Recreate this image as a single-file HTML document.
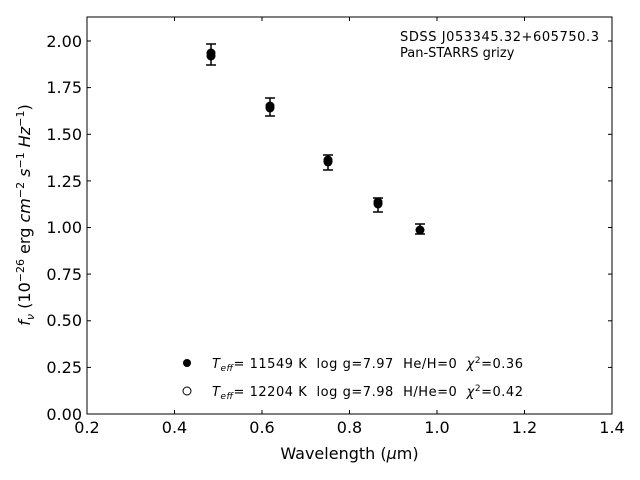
<!DOCTYPE html>
<html><head><style>body{margin:0;background:#fff}svg{display:block}text{font-family:"DejaVu Sans","Liberation Sans",sans-serif;white-space:pre}</style></head><body>
<svg width="640" height="480" xmlns="http://www.w3.org/2000/svg">
<rect x="87" y="17" width="525" height="397" fill="none" stroke="#000" stroke-width="1"/>
<g stroke="#000" stroke-width="1">
<line x1="87" y1="414" x2="87" y2="410"/><line x1="174.5" y1="414" x2="174.5" y2="410"/><line x1="262" y1="414" x2="262" y2="410"/><line x1="349.5" y1="414" x2="349.5" y2="410"/><line x1="437" y1="414" x2="437" y2="410"/><line x1="524.5" y1="414" x2="524.5" y2="410"/><line x1="612" y1="414" x2="612" y2="410"/>
<line x1="87" y1="17" x2="87" y2="21"/><line x1="174.5" y1="17" x2="174.5" y2="21"/><line x1="262" y1="17" x2="262" y2="21"/><line x1="349.5" y1="17" x2="349.5" y2="21"/><line x1="437" y1="17" x2="437" y2="21"/><line x1="524.5" y1="17" x2="524.5" y2="21"/><line x1="612" y1="17" x2="612" y2="21"/>
<line x1="87" y1="414" x2="91" y2="414"/><line x1="87" y1="367.4" x2="91" y2="367.4"/><line x1="87" y1="320.8" x2="91" y2="320.8"/><line x1="87" y1="274.1" x2="91" y2="274.1"/><line x1="87" y1="227.5" x2="91" y2="227.5"/><line x1="87" y1="180.9" x2="91" y2="180.9"/><line x1="87" y1="134.3" x2="91" y2="134.3"/><line x1="87" y1="87.6" x2="91" y2="87.6"/><line x1="87" y1="41" x2="91" y2="41"/>
<line x1="612" y1="414" x2="608" y2="414"/><line x1="612" y1="367.4" x2="608" y2="367.4"/><line x1="612" y1="320.8" x2="608" y2="320.8"/><line x1="612" y1="274.1" x2="608" y2="274.1"/><line x1="612" y1="227.5" x2="608" y2="227.5"/><line x1="612" y1="180.9" x2="608" y2="180.9"/><line x1="612" y1="134.3" x2="608" y2="134.3"/><line x1="612" y1="87.6" x2="608" y2="87.6"/><line x1="612" y1="41" x2="608" y2="41"/>
</g>
<g font-size="16" text-anchor="middle">
<text x="87" y="433">0.2</text><text x="174.5" y="433">0.4</text><text x="262" y="433">0.6</text><text x="349.5" y="433">0.8</text><text x="437" y="433">1.0</text><text x="524.5" y="433">1.2</text><text x="612" y="433">1.4</text>
</g>
<g font-size="16" text-anchor="end">
<text x="82" y="420">0.00</text><text x="82" y="373">0.25</text><text x="82" y="326">0.50</text><text x="82" y="280">0.75</text><text x="82" y="233">1.00</text><text x="82" y="187">1.25</text><text x="82" y="140">1.50</text><text x="82" y="93">1.75</text><text x="82" y="47">2.00</text>
</g>
<text x="349.5" y="459" font-size="16" text-anchor="middle">Wavelength (<tspan font-style="italic">μ</tspan>m)</text>
<text transform="translate(30,215) rotate(-90)" font-size="16" text-anchor="middle"><tspan font-style="italic">f<tspan font-size="11" dy="4">ν</tspan></tspan><tspan dy="-4"> (10</tspan><tspan font-size="11" dy="-6">−26</tspan><tspan dy="6"> erg </tspan><tspan font-style="italic">cm</tspan><tspan font-size="11" dy="-6">−2</tspan><tspan dy="6" font-style="italic"> s</tspan><tspan font-size="11" dy="-6">−1</tspan><tspan dy="6" font-style="italic"> Hz</tspan><tspan font-size="11" dy="-6">−1</tspan><tspan dy="6">)</tspan></text>
<text x="400" y="41" font-size="13" textLength="199">SDSS J053345.32+605750.3</text>
<text x="400" y="57" font-size="13">Pan-STARRS grizy</text>
<g stroke="#000" stroke-width="1.5" fill="none">
<path d="M211 44V65M206 44H216M206 65H216"/>
<path d="M270 98V116M265 98H275M265 116H275"/>
<path d="M328 155V170M323 155H333M323 170H333"/>
<path d="M378 198V212M373 198H383M373 212H383"/>
<path d="M420 224V234M415 224H425M415 234H425"/>
</g>
<g fill="#000">
<circle cx="211" cy="53" r="4.5"/><circle cx="211" cy="56" r="4.5"/>
<circle cx="270" cy="106" r="4.5"/><circle cx="270" cy="108" r="4.5"/>
<circle cx="328" cy="160" r="4.5"/><circle cx="328" cy="162" r="4.5"/>
<circle cx="378" cy="202" r="4.5"/><circle cx="378" cy="204" r="4.5"/>
<circle cx="420" cy="230" r="4.5"/>
</g>
<circle cx="187" cy="363" r="4" fill="#000"/>
<circle cx="187" cy="391" r="4" fill="#fff" stroke="#000" stroke-width="1"/>
<text x="212" y="368" font-size="13" textLength="311" lengthAdjust="spacing"><tspan font-style="italic">T<tspan font-size="9" dy="3">eff</tspan></tspan><tspan dy="-3">= 11549 K&#160;&#160;log g=7.97&#160;&#160;He/H=0&#160;&#160;</tspan><tspan font-style="italic">χ</tspan><tspan font-size="9" dy="-5">2</tspan><tspan dy="5">=0.36</tspan></text>
<text x="212" y="396" font-size="13" textLength="311" lengthAdjust="spacing"><tspan font-style="italic">T<tspan font-size="9" dy="3">eff</tspan></tspan><tspan dy="-3">= 12204 K&#160;&#160;log g=7.98&#160;&#160;H/He=0&#160;&#160;</tspan><tspan font-style="italic">χ</tspan><tspan font-size="9" dy="-5">2</tspan><tspan dy="5">=0.42</tspan></text>
</svg>
</body></html>
